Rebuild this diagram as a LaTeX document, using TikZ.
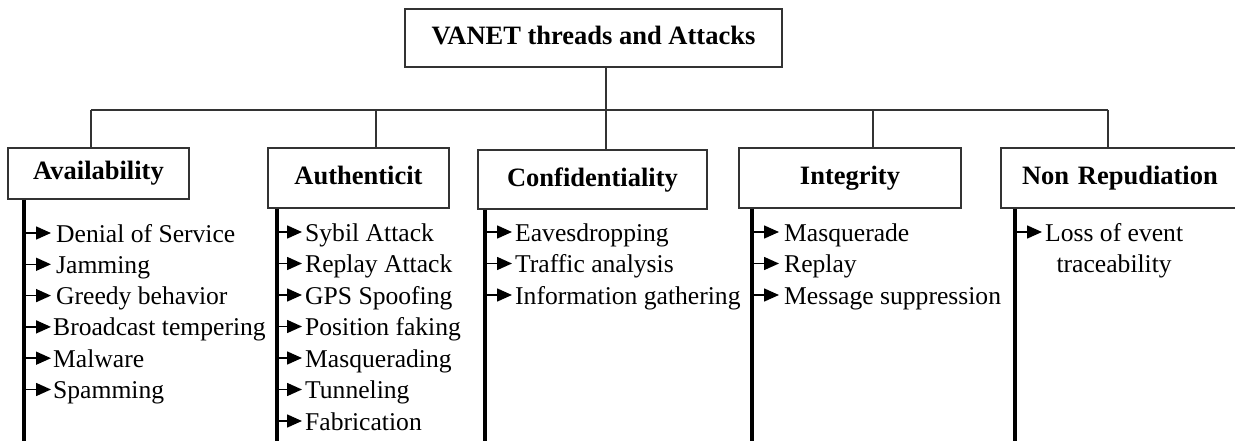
\documentclass[tikz,border=0pt]{standalone}
\usepackage{fontspec}
\setmainfont{Liberation Serif}
\usetikzlibrary{arrows.meta}
\begin{document}
\begin{tikzpicture}[x=1pt,y=-1pt,
  box/.style={draw=black!80, line width=1.3pt, inner sep=0pt, fill=white,
    text height=18pt, text depth=5pt,
    font=\fontsize{26.5}{30}\selectfont\bfseries},
  item/.style={anchor=west, inner xsep=3pt, inner ysep=0pt, text height=20pt, text depth=2pt,
    font=\fontsize{25.6}{30}\selectfont},
  link/.style={draw=black!80, line width=1.4pt},
  rail/.style={draw=black, line width=3.4pt},
  arr/.style={draw=black, line width=1.6pt, -{Triangle[length=15pt,width=13pt]}}]
\useasboundingbox (0,0) rectangle (1235,441);

% boxes
\node[box, minimum width=377pt, minimum height=58pt] (title) at (593.5,38) {VANET threads and Attacks};
\node[box, minimum width=181pt, minimum height=51pt] (avail) at (98.5,173.5) {Availability};
\node[box, minimum width=181pt, minimum height=60pt] (auth) at (358.5,178) {Authenticit};
\node[box, minimum width=229pt, minimum height=59pt] (conf) at (592.5,179.5) {Confidentiality};
\node[box, minimum width=222pt, minimum height=60pt] (integ) at (850,178) {Integrity};
\node[box, minimum width=236pt, minimum height=60pt, text width=232pt, align=left] (nonrep) at (1119,178) {\hspace*{19pt}Non Repudiation};

% tree connectors
\coordinate (hub) at (606,110);
\coordinate (d1) at (91,110);
\coordinate (d2) at (376,110);
\coordinate (d4) at (873,110);
\coordinate (d5) at (1108,110);
\draw[link] (hub |- title.south) -- (hub);
\draw[link] (d1) -- (d5);
\draw[link] (d1) -- (d1 |- avail.north);
\draw[link] (d2) -- (d2 |- auth.north);
\draw[link] (hub) -- (hub |- conf.north);
\draw[link] (d4) -- (d4 |- integ.north);
\draw[link] (d5) -- (d5 |- nonrep.north);

% rails
\coordinate (r1) at (24,441);
\coordinate (r2) at (277,441);
\coordinate (r3) at (485,441);
\coordinate (r4) at (752,441);
\coordinate (r5) at (1015,441);
\draw[rail] (r1 |- avail.south) -- (r1);
\draw[rail] (r2 |- auth.south) -- (r2);
\draw[rail] (r3 |- conf.south) -- (r3);
\draw[rail] (r4 |- integ.south) -- (r4);
\draw[rail] (r5 |- nonrep.south) -- (r5);

% Availability items
\foreach \t [count=\i] in {Denial of Service, Jamming, Greedy behavior}{
  \node[item, inner xsep=5pt] (a\i) at (51,{233+(\i-1)*31.3}) {\t};
  \draw[arr] (r1 |- a\i.west) -- (a\i.west);
}
\foreach \t [count=\i from 4] in {Broadcast tempering, Malware, Spamming}{
  \node[item, inner xsep=2pt] (a\i) at (51,{233+(\i-1)*31.3}) {\t};
  \draw[arr] (r1 |- a\i.west) -- (a\i.west);
}

% Authenticity items
\foreach \t [count=\i] in {Sybil Attack, Replay Attack, GPS Spoofing, Position faking, Masquerading, Tunneling, Fabrication}{
  \node[item] (b\i) at (302,{232+(\i-1)*31.5}) {\t};
  \draw[arr] (r2 |- b\i.west) -- (b\i.west);
}

% Confidentiality items
\foreach \t [count=\i] in {Eavesdropping, Traffic analysis, Information gathering}{
  \node[item] (c\i) at (512,{232+(\i-1)*31.5}) {\t};
  \draw[arr] (r3 |- c\i.west) -- (c\i.west);
}

% Integrity items
\foreach \t [count=\i] in {Masquerade, Replay, Message suppression}{
  \node[item, inner xsep=5pt] (e\i) at (779,{232+(\i-1)*31.5}) {\t};
  \draw[arr] (r4 |- e\i.west) -- (e\i.west);
}

% Non repudiation items
\node[item] (f1) at (1042,232) {Loss of event};
\node[item, anchor=center] (f2) at ([yshift=-31.5pt]f1.center) {traceability};
\draw[arr] (r5 |- f1.west) -- (f1.west);
\end{tikzpicture}
\end{document}
